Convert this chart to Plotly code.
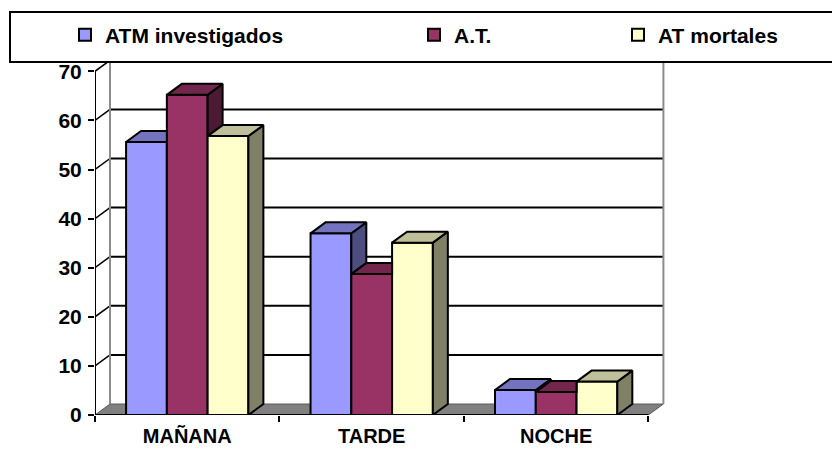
import plotly.graph_objects as go

# ---------------- data ----------------
categories = ["MAÑANA", "TARDE", "NOCHE"]
series_names = ["ATM investigados", "A.T.", "AT mortales"]
atm_investigados = [55.6, 37.0, 5.1]
at_values = [65.2, 28.7, 4.7]
at_mortales = [56.8, 35.1, 6.8]
y_tick_values = [0, 10, 20, 30, 40, 50, 60, 70]

series_values = [atm_investigados, at_values, at_mortales]

# ---------------- style ----------------
front_colors = ["#9999FF", "#993366", "#FFFFCC"]
top_colors = ["#7373BF", "#73264C", "#BFBF99"]
side_colors = ["#4D4D80", "#4D1A33", "#808066"]
FONT = "Liberation Sans, Arial, sans-serif"

W, H = 840, 449
PAGE = 8  # default page margin of the html body; targets below are in window pixels
ML = 95 - PAGE
MT = 60 - PAGE
MB = H - (415 - PAGE)
MR = W - (665 - PAGE)
X_MAX = 3.09
Y_MAX = 72.3
PLOT_W = W - ML - MR
PLOT_H = H - MT - MB
px_x = PLOT_W / X_MAX
px_y = PLOT_H / Y_MAX
DX = 15 / px_x          # depth offset (x, data units)
DY = 11 / px_y          # depth offset (y, data units)
BAR_W = 0.221
GROUP_OFFSET = -1.5 * BAR_W
Y_TOP = y_tick_values[-1]
N_CAT = len(categories)
centers = [i + 0.5 for i in range(N_CAT)]


def paper_x(px):
    return (px - PAGE - ML) / PLOT_W


def paper_y(py):
    return (H - MB - (py - PAGE)) / PLOT_H


fig = go.Figure()

# front faces of the bars
legend_ids = ["legend", "legend2", "legend3"]
for s, (name, vals) in enumerate(zip(series_names, series_values)):
    fig.add_trace(go.Bar(
        x=centers, y=vals, name=name, width=BAR_W,
        offset=GROUP_OFFSET + s * BAR_W,
        marker=dict(color=front_colors[s], line=dict(color="black", width=2)),
        legend=legend_ids[s],
    ))

# 3D top and side faces
def face(xs, ys, color):
    fig.add_trace(go.Scatter(
        x=xs, y=ys, mode="lines", fill="toself", fillcolor=color,
        line=dict(color="black", width=2), showlegend=False, hoverinfo="skip",
    ))


for c in range(N_CAT):
    for s in range(len(series_values)):
        v = series_values[s][c]
        h = series_values[s + 1][c] if s < len(series_values) - 1 else 0
        x0 = centers[c] + GROUP_OFFSET + s * BAR_W
        x1 = x0 + BAR_W
        # side face (visible part above the next bar)
        if v > h:
            face([x1, x1 + DX, x1 + DX, x1, x1], [h, h + DY, v + DY, v, h], side_colors[s])
        # top face
        if h > v:
            t = max(0.0, v + DY - h)
            face([x0, x1, x1, x1 + t * DX / DY, x0 + DX, x0],
                 [v, v, min(h, v + DY), v + DY, v + DY, v], top_colors[s])
        else:
            face([x0, x1, x1 + DX, x0 + DX, x0], [v, v, v + DY, v + DY, v], top_colors[s])

# walls, floor, grid
shapes = []
shapes.append(dict(type="path", xref="x", yref="y", layer="below",
                   path=f"M 0,0 L {N_CAT},0 L {N_CAT + DX},{DY} L {DX},{DY} Z",
                   fillcolor="#808080", line=dict(color="#5A5A5A", width=1)))
for v in y_tick_values[1:]:
    shapes.append(dict(type="line", xref="x", yref="y", layer="below",
                       x0=DX, y0=v + DY, x1=N_CAT + DX, y1=v + DY,
                       line=dict(color="black", width=2)))
for v in y_tick_values[1:]:
    shapes.append(dict(type="line", xref="x", yref="y", layer="below",
                       x0=0, y0=v, x1=DX, y1=v + DY,
                       line=dict(color="black", width=1.5)))
for xw in (DX, N_CAT + DX):
    shapes.append(dict(type="line", xref="x", yref="y", layer="below",
                       x0=xw, y0=DY, x1=xw, y1=Y_TOP + DY,
                       line=dict(color="#8C8C8C", width=2)))
shapes.append(dict(type="line", xref="x", yref="y", layer="below",
                   x0=0, y0=0, x1=0, y1=Y_TOP, line=dict(color="black", width=2)))
shapes.append(dict(type="line", xref="x", yref="y", layer="below",
                   x0=0, y0=0, x1=N_CAT, y1=0, line=dict(color="black", width=2)))
# legend frame
shapes.append(dict(type="rect", xref="paper", yref="paper", layer="above",
                   x0=paper_x(10), x1=paper_x(860), y0=paper_y(62), y1=paper_y(12),
                   fillcolor="white", line=dict(color="black", width=2)))

legend_font = dict(family=FONT, size=21, color="black", weight="bold")
legend_text_px = [106, 455, 659]
legends = {}
for lid, tx in zip(legend_ids, legend_text_px):
    legends[lid] = dict(x=(tx - PAGE - 41) / W, y=(H - (35 - PAGE)) / H,
                        xref="container", yref="container",
                        xanchor="left", yanchor="middle",
                        orientation="h", bgcolor="rgba(0,0,0,0)", borderwidth=0,
                        font=legend_font)

tick_font = dict(family=FONT, size=21, color="black", weight="bold")
x_tick_font = dict(family=FONT, size=20, color="black", weight="bold")
fig.update_layout(
    width=W, height=H, autosize=False,
    margin=dict(l=ML, r=MR, t=MT, b=MB, pad=0, autoexpand=False),
    paper_bgcolor="white", plot_bgcolor="white",
    barmode="overlay",
    shapes=shapes,
    xaxis=dict(range=[0, X_MAX], tickvals=centers, ticktext=categories, ticks="",
               showline=False, showgrid=False, zeroline=False, tickfont=x_tick_font,
               ticklabelstandoff=7, fixedrange=True, automargin=False,
               minor=dict(tick0=0, dtick=1, ticks="outside", ticklen=6, tickwidth=2,
                          tickcolor="black", showgrid=False)),
    yaxis=dict(range=[0, Y_MAX], tickvals=y_tick_values, ticks="outside", ticklen=6,
               tickwidth=2, tickcolor="black", showline=False, showgrid=False,
               zeroline=False, tickfont=tick_font, ticklabelstandoff=2, fixedrange=True,
               automargin=False),
    **legends,
)

fig.write_html("out.html")
